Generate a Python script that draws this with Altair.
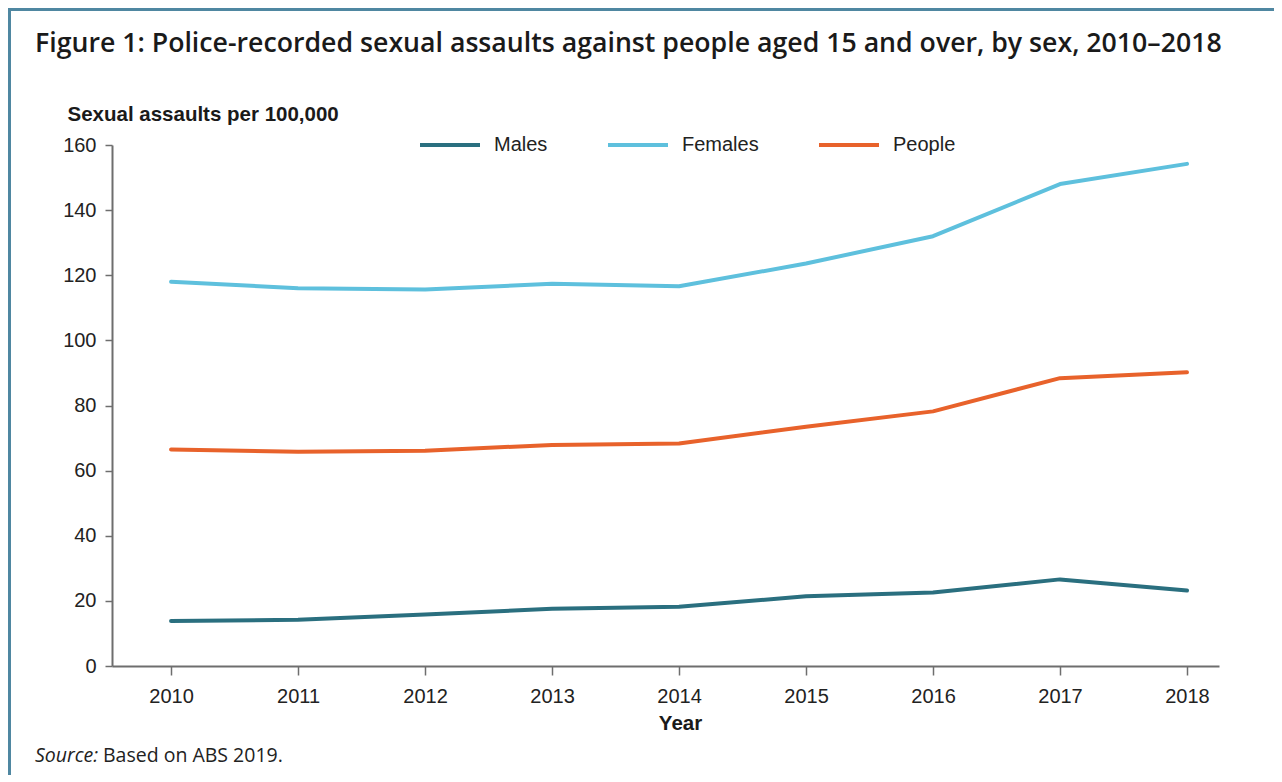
import altair as alt
import pandas as pd

years = [2010, 2011, 2012, 2013, 2014, 2015, 2016, 2017, 2018]
males = [13.8, 14.2, 15.8, 17.6, 18.2, 21.4, 22.6, 26.6, 23.2]
females = [118.0, 116.0, 115.6, 117.4, 116.6, 123.6, 132.0, 148.0, 154.2]
people = [66.5, 65.8, 66.1, 67.9, 68.3, 73.5, 78.2, 88.4, 90.2]

series_names = ["Males", "Females", "People"]
series_colors = ["#2a6f7f", "#5ec0dd", "#e8622b"]
y_ticks = [0, 20, 40, 60, 80, 100, 120, 140, 160]

title_text = "Figure 1: Police-recorded sexual assaults against people aged 15 and over, by sex, 2010\u20132018"
y_title = "Sexual assaults per 100,000"
x_title = "Year"
source_label = "Source:"
source_text = "Based on ABS 2019."

rows = []
for name, vals in zip(series_names, [males, females, people]):
    for yr, v in zip(years, vals):
        rows.append({"Year": yr, "Series": name, "Value": v})
df = pd.DataFrame(rows)

W = 1107
H = 521
PAD_L, PAD_T, PAD_R, PAD_B = 104, 137, 55, 109

sans = "Liberation Sans, Arial, Helvetica, sans-serif"
opensans = "Open Sans, sans-serif"

lines = alt.Chart(df).mark_line(strokeWidth=4, strokeCap="round", strokeJoin="round").encode(
    x=alt.X(
        "Year:Q",
        scale=alt.Scale(domain=[2009.535, 2018.252], nice=False, zero=False),
        axis=alt.Axis(
            values=years, format="d", title=x_title,
            titleX=568, titleY=63, titleAlign="center", titleBaseline="alphabetic",
            titleFont=sans, titleFontSize=20.5, titleFontWeight="bold", titleColor="#1a1a1a",
            labelFont=sans, labelFontSize=20, labelColor="#222222", labelPadding=11,
            tickSize=9, tickWidth=1.5, tickColor="#6e6e6e",
            domainColor="#6e6e6e", domainWidth=2, grid=False,
        ),
    ),
    y=alt.Y(
        "Value:Q",
        scale=alt.Scale(domain=[0, 160], nice=False),
        axis=alt.Axis(
            values=y_ticks, title=y_title,
            titleAngle=0, titleX=-45, titleY=-25, titleAlign="left", titleBaseline="alphabetic",
            titleFont=sans, titleFontSize=20.5, titleFontWeight="bold", titleColor="#1a1a1a",
            labelFont=sans, labelFontSize=20, labelColor="#222222", labelPadding=9,
            tickSize=7, tickWidth=1.5, tickColor="#6e6e6e",
            domainColor="#6e6e6e", domainWidth=2, grid=False,
        ),
    ),
    color=alt.Color(
        "Series:N",
        scale=alt.Scale(domain=series_names, range=series_colors),
        sort=series_names,
        legend=alt.Legend(
            title=None, orient="none", legendX=306, legendY=-32, direction="horizontal",
            symbolType="stroke", symbolSize=3600, symbolStrokeWidth=4,
            labelFont=sans, labelFontSize=20, labelColor="#222222",
            labelOffset=12, columnPadding=52,
        ),
    ),
)

frame = alt.Chart(alt.Data(values=[{}])).mark_rect(
    filled=False, stroke="#4f87a1", strokeWidth=3
).encode(
    x=alt.value(-PAD_L + 1.5), x2=alt.value(W + PAD_R + 20),
    y=alt.value(-PAD_T + 1.5), y2=alt.value(H + PAD_B + 20),
)

src1 = alt.Chart(alt.Data(values=[{"t": source_label}])).mark_text(
    font=opensans, fontSize=19.5, fontStyle="italic", align="left", baseline="alphabetic", color="#222222"
).encode(text="t:N", x=alt.value(-77), y=alt.value(617))

src2 = alt.Chart(alt.Data(values=[{"t": source_text}])).mark_text(
    font=opensans, fontSize=19.5, align="left", baseline="alphabetic", color="#222222"
).encode(text="t:N", x=alt.value(-9), y=alt.value(617))

chart = alt.layer(frame, lines, src1, src2).properties(
    width=W, height=H,
    autosize=alt.AutoSizeParams(type="none"),
    padding={"left": PAD_L, "top": PAD_T, "right": PAD_R, "bottom": PAD_B},
    title=alt.TitleParams(
        text=title_text, anchor="start", frame="group", dx=-77, dy=71,
        baseline="alphabetic", offset=0,
        font=opensans, fontSize=26.7, fontWeight=600, color="#1a1a1a",
    ),
).configure(background="white", view=alt.ViewConfig(stroke="transparent", strokeWidth=0))

chart.save("out.html", embed_options={"renderer": "svg", "actions": False})
